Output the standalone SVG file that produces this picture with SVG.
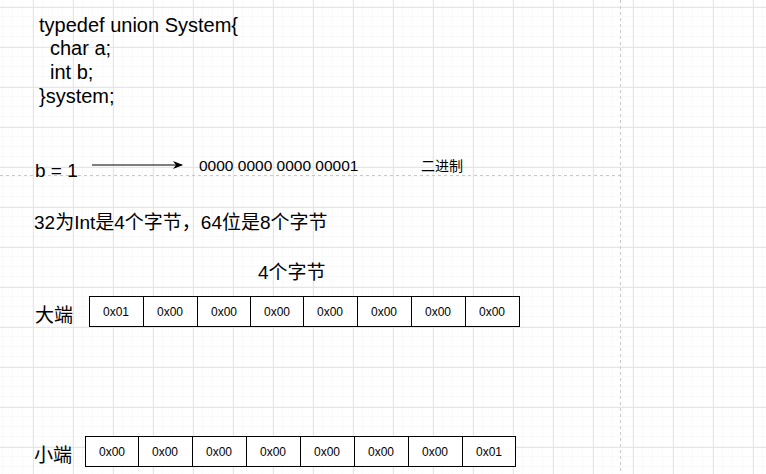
<svg xmlns="http://www.w3.org/2000/svg" width="766" height="474" viewBox="0 0 766 474">
<defs>
<pattern id="minor" width="10" height="10" patternUnits="userSpaceOnUse" x="3" y="7"><path d="M10 0V10M0 10H10" fill="none" stroke="#f3f3f3" stroke-width="1"/></pattern>
<pattern id="major" width="40" height="40" patternUnits="userSpaceOnUse" x="33" y="7"><path d="M0.5 0V40M0 0.5H40" fill="none" stroke="#e6e6e6" stroke-width="1"/></pattern>
<marker id="ar" markerWidth="10" markerHeight="8" refX="9" refY="4" orient="auto" markerUnits="userSpaceOnUse"><path d="M0 0L10 4L0 8L3 4Z" fill="#000"/></marker>
</defs>
<style>
text{font-family:"Liberation Sans","Noto Sans CJK SC",sans-serif;fill:#000}
.c{font-size:20px}
.b{font-size:12px;text-anchor:middle}
.box{fill:#fff;stroke:#000;stroke-width:1}
</style>
<rect width="766" height="474" fill="#fff"/>
<rect width="766" height="474" fill="url(#minor)"/>
<rect width="766" height="474" fill="url(#major)"/>
<line x1="0" y1="175.5" x2="620" y2="175.5" stroke="#c8c8c8" stroke-dasharray="3 3"/>
<line x1="620.5" y1="0" x2="620.5" y2="474" stroke="#c8c8c8" stroke-dasharray="3 3"/>
<g id="code">
<text class="c" x="39" y="32">typedef union System{</text>
<text class="c" x="50" y="55">char a;</text>
<text class="c" x="50" y="79">int b;</text>
<text class="c" x="39" y="103">}system;</text>
</g>
<g id="b1"><text x="35" y="177" font-size="19">b = 1</text></g>
<g id="connectors"><line x1="92" y1="165" x2="182" y2="165" stroke="#000" stroke-width="1" marker-end="url(#ar)"/></g>
<g id="bin"><text x="199" y="171" font-size="15.5">0000 0000 0000 00001</text></g>
<g id="lbl2"><text x="421" y="171" font-size="14">二进制</text></g>
<g id="desc"><text x="34" y="229" font-size="19">32为Int是4个字节，64位是8个字节</text></g>
<g id="four"><text x="258" y="279" font-size="19">4个字节</text></g>
<g id="big">
<text x="35" y="322" font-size="19">大端</text>
<rect class="box" x="89.5" y="296.5" width="54" height="30"/><text class="b" x="116" y="316">0x01</text>
<rect class="box" x="143.5" y="296.5" width="54" height="30"/><text class="b" x="170" y="316">0x00</text>
<rect class="box" x="197.5" y="296.5" width="53" height="30"/><text class="b" x="224" y="316">0x00</text>
<rect class="box" x="250.5" y="296.5" width="53" height="30"/><text class="b" x="277" y="316">0x00</text>
<rect class="box" x="303.5" y="296.5" width="54" height="30"/><text class="b" x="330" y="316">0x00</text>
<rect class="box" x="357.5" y="296.5" width="54" height="30"/><text class="b" x="384" y="316">0x00</text>
<rect class="box" x="411.5" y="296.5" width="54" height="30"/><text class="b" x="438" y="316">0x00</text>
<rect class="box" x="465.5" y="296.5" width="54" height="30"/><text class="b" x="492" y="316">0x00</text>
</g>
<g id="little">
<text x="34" y="462" font-size="19">小端</text>
<rect class="box" x="85.5" y="436.5" width="53" height="30"/><text class="b" x="112" y="456">0x00</text>
<rect class="box" x="138.5" y="436.5" width="54" height="30"/><text class="b" x="165" y="456">0x00</text>
<rect class="box" x="192.5" y="436.5" width="54" height="30"/><text class="b" x="219" y="456">0x00</text>
<rect class="box" x="246.5" y="436.5" width="54" height="30"/><text class="b" x="273" y="456">0x00</text>
<rect class="box" x="300.5" y="436.5" width="54" height="30"/><text class="b" x="327" y="456">0x00</text>
<rect class="box" x="354.5" y="436.5" width="54" height="30"/><text class="b" x="381" y="456">0x00</text>
<rect class="box" x="408.5" y="436.5" width="54" height="30"/><text class="b" x="435" y="456">0x00</text>
<rect class="box" x="462.5" y="436.5" width="53" height="30"/><text class="b" x="489" y="456">0x01</text>
</g>
</svg>
